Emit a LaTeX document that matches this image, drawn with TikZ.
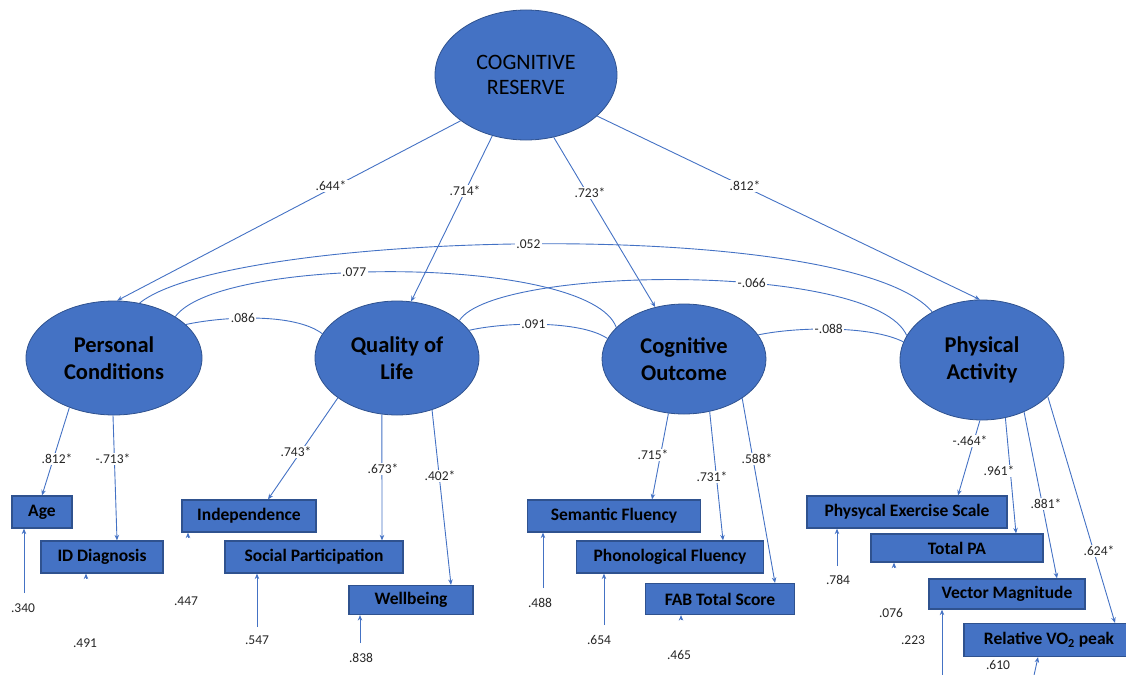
\documentclass[tikz,border=0pt]{standalone}
\usepackage{fontspec}
\setmainfont{Carlito}
\usetikzlibrary{shapes.geometric,arrows.meta,calc}
\definecolor{ofblue}{HTML}{4472C4}
\definecolor{ofdark}{HTML}{2F528F}
\begin{document}
\begin{tikzpicture}[x=1pt,y=-1pt,
  lat/.style={ellipse, fill=ofblue, draw=ofdark, line width=0.8pt, inner sep=0pt, align=center,
    font=\fontsize{22.5}{27}\selectfont\bfseries},
  obs/.style={rectangle, fill=ofblue, draw=ofdark, line width=1.2pt, inner sep=0pt,
    font=\fontsize{17.5}{20}\selectfont\bfseries},
  lbl/.style={fill=white, inner sep=1.5pt, text=black!85, font=\fontsize{13.5}{15}\selectfont},
  ld/.style={draw=ofblue, line width=0.9pt, -{Stealth[length=5.5pt,width=4.5pt]}},
  cov/.style={draw=ofblue, line width=0.9pt},
]
\useasboundingbox (0,0) rectangle (1126,674);

% latent variables
\node[lat, minimum width=182, minimum height=130, font=\fontsize{22}{25}\selectfont] (CR) at (526,75) {COGNITIVE\\RESERVE};
\node[lat, minimum width=176, minimum height=114] (PC) at (114,358) {Personal\\Conditions};
\node[lat, minimum width=164, minimum height=114] (QL) at (397,358) {Quality of\\Life};
\node[lat, minimum width=164, minimum height=110] (CO) at (684,359) {Cognitive\\Outcome};
\node[lat, minimum width=164, minimum height=120] (PA) at (982,360) {Physical\\Activity};

% observed variables
\node[obs, minimum width=60,  minimum height=32] (Age) at (42,512) {Age};
\node[obs, minimum width=122, minimum height=32] (ID)  at (102,557) {ID Diagnosis};
\node[obs, minimum width=134, minimum height=32] (IND) at (249,516) {Independence};
\node[obs, minimum width=178, minimum height=32] (SP)  at (314,557) {Social Participation};
\node[obs, minimum width=124, minimum height=29] (WB)  at (411,600) {Wellbeing};
\node[obs, minimum width=173, minimum height=32] (SF)  at (614,516) {Semantic Fluency};
\node[obs, minimum width=187, minimum height=32] (PF)  at (670,557) {Phonological Fluency};
\node[obs, minimum width=149, minimum height=31] (FAB) at (720,599) {FAB Total Score};
\node[obs, minimum width=200, minimum height=32] (PES) at (907,512) {Physycal Exercise Scale};
\node[obs, minimum width=172, minimum height=28] (TPA) at (957,548) {Total PA};
\node[obs, minimum width=156, minimum height=30] (VM)  at (1007,594) {Vector Magnitude};
\node[obs, minimum width=170, minimum height=33] (VO)  at (1049,640) {Relative VO\textsubscript{2} peak};

% second-order loadings
\draw[ld] (CR.-145.7) -- (PC.87);
\draw[ld] (CR.-119) -- (QL.76);
\draw[ld] (CR.-66) -- (CO.119.5);
\draw[ld] (CR.-30.8) -- (PA.92);
\node[lbl] (l644) at (331,186) {.644*};
\node[lbl] (l714) at (465,191) {.714*};
\node[lbl] (l723) at (590,193) {.723*};
\node[lbl] (l812a) at (745,186) {.812*};

% covariances
\draw[cov] (PC.25.6) .. controls (225,316) and (295,313) .. (QL.162.4) node[lbl,pos=0.4] (c086) {.086};
\draw[cov] (QL.21.7) .. controls (505,322) and (580,320) .. (CO.165.4) node[lbl,pos=0.45] (c091) {.091};
\draw[cov] (CO.18.2) .. controls (795,327) and (870,325) .. (PA.167) node[lbl,pos=0.48] (c088) {-.088};
\draw[cov] (PC.34) .. controls (220,255) and (590,255) .. (CO.155.8) node[lbl,pos=0.42] (c077) {.077};
\draw[cov] (PC.65.6) .. controls (230,230) and (850,215) .. (PA.136) node[lbl,pos=0.49] (c052) {.052};
\draw[cov] (QL.31) .. controls (495,265) and (875,262) .. (PA.162) node[lbl,pos=0.61] (c066) {-.066};

% first-order loadings
\draw[ld] (PC.-132.6) -- (Age.north);
\draw[ld] (PC.-91) -- ($(ID.north)+(15,0)$);
\draw[ld] (QL.-146.3) -- ($(IND.north)+(19,0)$);
\draw[ld] (QL.-105) -- ($(SP.north)+(68,0)$);
\draw[ld] (QL.-56) -- ($(WB.north)+(40,0)$);
\draw[ld] (CO.-106) -- ($(SF.north)+(38,0)$);
\draw[ld] (CO.-64) -- ($(PF.north)+(53,0)$);
\draw[ld] (CO.-34.8) -- ($(FAB.north)+(55,0)$);
\draw[ld] (PA.-92) -- ($(PES.north)+(51,0)$);
\draw[ld] (PA.-68.7) -- ($(TPA.north)+(59,0)$);
\draw[ld] (PA.-51) -- ($(VM.north)+(50,0)$);
\draw[ld] (PA.-29) -- ($(VO.north)+(66,0)$);
\node[lbl] (l812) at (57,459) {.812*};
\node[lbl] (l713) at (113,459) {-.713*};
\node[lbl] (l743) at (296,452) {.743*};
\node[lbl] (l673) at (383,469) {.673*};
\node[lbl] (l402) at (440,476) {.402*};
\node[lbl] (l715) at (653,455) {.715*};
\node[lbl] (l731) at (712,477) {.731*};
\node[lbl] (l588) at (757,459) {.588*};
\node[lbl] (l464) at (970,441) {-.464*};
\node[lbl] (l961) at (999,471) {.961*};
\node[lbl] (l881) at (1046,504) {.881*};
\node[lbl] (l624) at (1099,551) {.624*};

% residuals
\coordinate (rAge) at (24,593);
\coordinate (rID)  at (86,579);
\coordinate (rIND) at (188,538);
\coordinate (rSP)  at (257,627);
\coordinate (rWB)  at (360,643);
\coordinate (rSF)  at (543,588);
\coordinate (rPF)  at (604,625);
\coordinate (rFAB) at (681,620);
\coordinate (rPES) at (837,566);
\coordinate (rTPA) at (894,568);
\coordinate (rVM)  at (942,680);
\coordinate (rVO)  at (1033,680);
\draw[ld] (rAge) -- ($(Age.south)+(-18,0)$);
\draw[ld] (rID)  -- ($(ID.south)+(-16,0)$);
\draw[ld] (rIND) -- ($(IND.south)+(-61,0)$);
\draw[ld] (rSP)  -- ($(SP.south)+(-57,0)$);
\draw[ld] (rWB)  -- ($(WB.south)+(-51,0)$);
\draw[ld] (rSF)  -- ($(SF.south)+(-71,0)$);
\draw[ld] (rPF)  -- ($(PF.south)+(-66,0)$);
\draw[ld] (rFAB) -- ($(FAB.south)+(-39,0)$);
\draw[ld] (rPES) -- ($(PES.south)+(-70,0)$);
\draw[ld] (rTPA) -- ($(TPA.south)+(-63,0)$);
\draw[ld] (rVM)  -- ($(VM.south)+(-65,0)$);
\draw[ld] (rVO)  -- ($(VO.south)+(-11,0)$);
\node[lbl] (e340) at (23,608) {.340};
\node[lbl] (e491) at (85,643) {.491};
\node[lbl] (e447) at (186,601) {.447};
\node[lbl] (e547) at (257,640) {.547};
\node[lbl] (e838) at (361,658) {.838};
\node[lbl] (e488) at (540,603) {.488};
\node[lbl] (e654) at (599,640) {.654};
\node[lbl] (e465) at (679,655) {.465};
\node[lbl] (e784) at (838,580) {.784};
\node[lbl] (e076) at (891,613) {.076};
\node[lbl] (e223) at (913,640) {.223};
\node[lbl] (e610) at (998,665) {.610};
\end{tikzpicture}
\end{document}
